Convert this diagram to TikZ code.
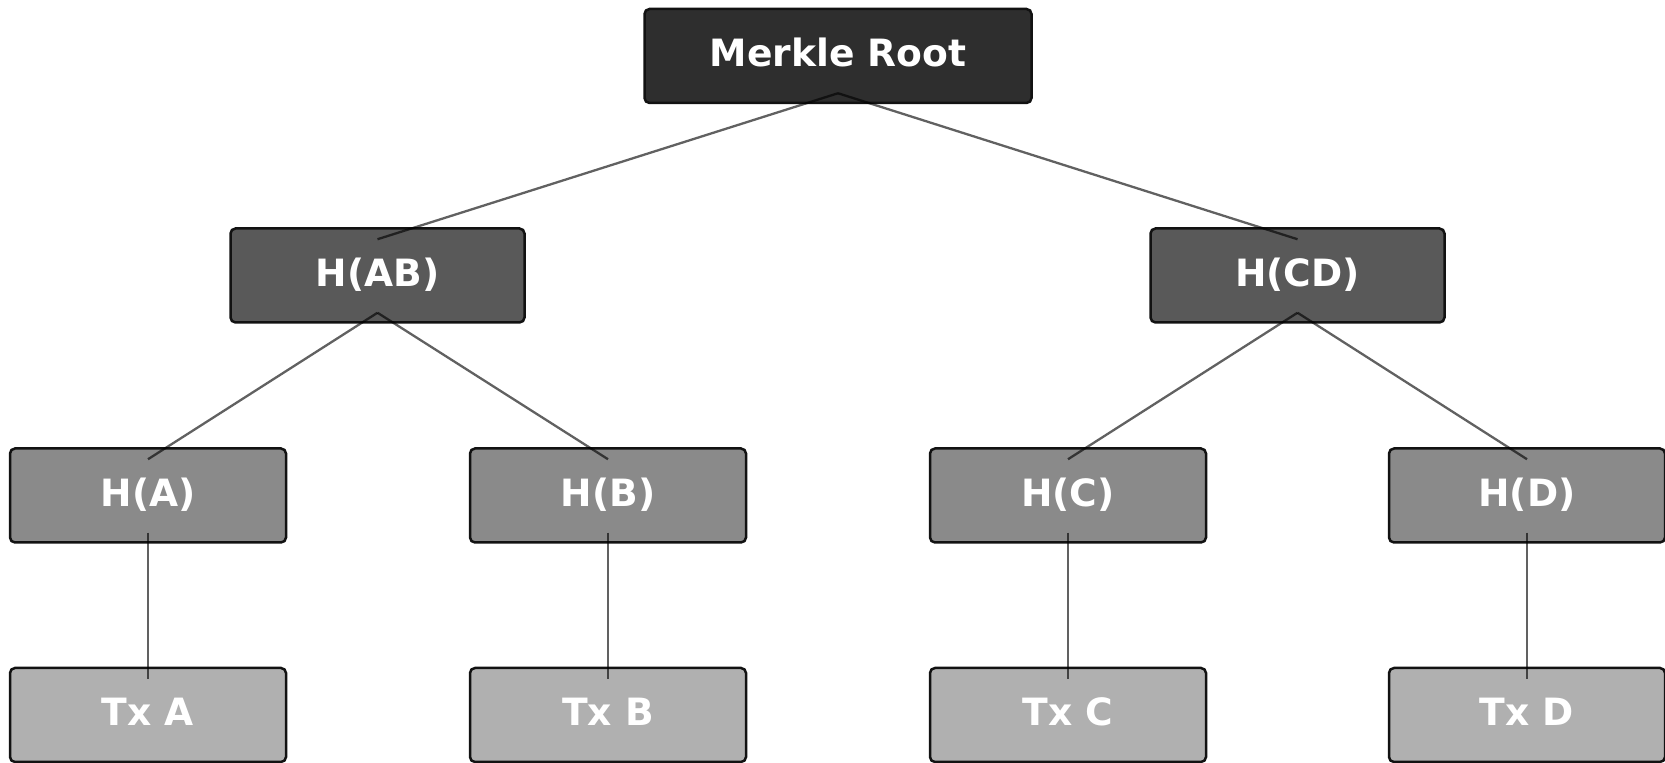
\documentclass[tikz,border=0pt]{standalone}
\usepackage{fontspec}
\setmainfont{DejaVu Sans}
\usepackage{tikz}

\begin{document}
\begin{tikzpicture}[x=0.5pt,y=-0.5pt,
    main node/.style={rectangle,rounded corners=2.5pt,draw=black!93,line width=1.25pt,text=white,font=\fontsize{18.8}{21}\selectfont\bfseries,minimum height=47pt,inner sep=0pt,text height=13.7pt,text depth=3pt},
    root node/.style={main node,fill=black!82,minimum width=193.5pt},
    pair node/.style={main node,fill=black!65,minimum width=147pt},
    leaf node/.style={main node,fill=black!46,minimum width=138pt},
    tx node/.style={main node,fill=black!31,minimum width=138pt},
    link/.style={draw=black,draw opacity=0.62,line width=1.15pt}]
    \useasboundingbox (0,0) rectangle (1665,763);

    \node[root node] (R) at (838,56) {Merkle Root};

    \node[pair node] (AB) at (377.5,275.5) {H(AB)};
    \node[pair node] (CD) at (1297.5,275.5) {H(CD)};

    \node[leaf node] (HA) at (148,495.5) {H(A)};
    \node[leaf node] (HB) at (608,495.5) {H(B)};
    \node[leaf node] (HC) at (1068,495.5) {H(C)};
    \node[leaf node] (HD) at (1527,495.5) {H(D)};

    \node[tx node] (TA) at (148,715) {Tx A};
    \node[tx node] (TB) at (608,715) {Tx B};
    \node[tx node] (TC) at (1068,715) {Tx C};
    \node[tx node] (TD) at (1527,715) {Tx D};

    % links sit on top of the boxes
    \draw[link] ([yshift=5.5pt]R.south) -- ([yshift=-6pt]AB.north);
    \draw[link] ([yshift=5.5pt]R.south) -- ([yshift=-6pt]CD.north);
    \draw[link] ([yshift=5.5pt]AB.south) -- ([yshift=-6pt]HA.north);
    \draw[link] ([yshift=5.5pt]AB.south) -- ([yshift=-6pt]HB.north);
    \draw[link] ([yshift=5.5pt]CD.south) -- ([yshift=-6pt]HC.north);
    \draw[link] ([yshift=5.5pt]CD.south) -- ([yshift=-6pt]HD.north);
    \draw[link] ([yshift=5.5pt]HA.south) -- ([yshift=-6pt]TA.north);
    \draw[link] ([yshift=5.5pt]HB.south) -- ([yshift=-6pt]TB.north);
    \draw[link] ([yshift=5.5pt]HC.south) -- ([yshift=-6pt]TC.north);
    \draw[link] ([yshift=5.5pt]HD.south) -- ([yshift=-6pt]TD.north);
\end{tikzpicture}
\end{document}
